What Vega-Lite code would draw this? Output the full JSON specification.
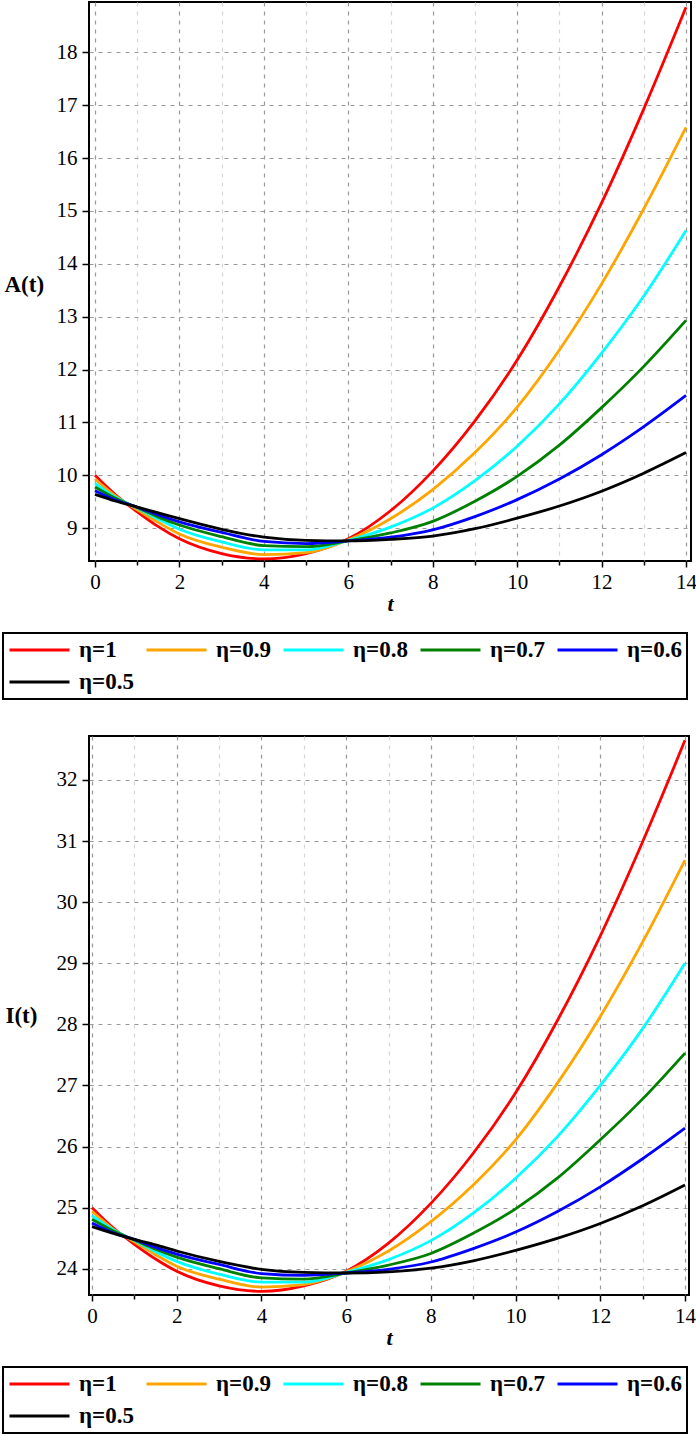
{
  "$schema": "https://vega.github.io/schema/vega-lite/v6.json",
  "background": "white",
  "padding": {"left": 1, "top": 1, "right": 2, "bottom": 0},
  "spacing": 34,
  "config": {
    "view": {"stroke": "black", "strokeWidth": 2},
    "font": "Liberation Serif",
    "axis": {
      "labelFont": "Liberation Serif",
      "labelFontSize": 21,
      "labelColor": "black",
      "titleFont": "Liberation Serif",
      "titleFontSize": 22,
      "titleFontWeight": "bold",
      "titleColor": "black",
      "domain": false,
      "tickColor": "black",
      "tickWidth": 1.5,
      "labelOverlap": false,
      "labelFlush": false,
      "labelPadding": 5,
      "grid": true,
      "gridWidth": 1.2
    },
    "legend": {
      "strokeColor": "black",
      "strokeWidth": 2,
      "fillColor": "white"
    }
  },
  "datasets": {
    "curves": [
      {"t":0,"eta":"η=1","A":10.00,"I":25.00},{"t":0.5,"eta":"η=1","A":9.62,"I":24.67},{"t":1,"eta":"η=1","A":9.31,"I":24.40},{"t":1.5,"eta":"η=1","A":9.03,"I":24.16},{"t":2,"eta":"η=1","A":8.80,"I":23.96},{"t":3,"eta":"η=1","A":8.52,"I":23.72},{"t":4,"eta":"η=1","A":8.42,"I":23.63},{"t":5,"eta":"η=1","A":8.52,"I":23.72},{"t":6,"eta":"η=1","A":8.80,"I":23.96},{"t":7,"eta":"η=1","A":9.33,"I":24.42},{"t":8,"eta":"η=1","A":10.08,"I":25.07},{"t":9,"eta":"η=1","A":11.03,"I":25.89},{"t":10,"eta":"η=1","A":12.18,"I":26.88},{"t":11,"eta":"η=1","A":13.57,"I":28.08},{"t":12,"eta":"η=1","A":15.15,"I":29.45},{"t":13,"eta":"η=1","A":16.93,"I":30.99},{"t":14,"eta":"η=1","A":18.85,"I":32.65},
      {"t":0,"eta":"η=0.9","A":9.93,"I":24.94},{"t":0.5,"eta":"η=0.9","A":9.60,"I":24.65},{"t":1,"eta":"η=0.9","A":9.35,"I":24.44},{"t":1.5,"eta":"η=0.9","A":9.11,"I":24.23},{"t":2,"eta":"η=0.9","A":8.89,"I":24.04},{"t":3,"eta":"η=0.9","A":8.64,"I":23.83},{"t":4,"eta":"η=0.9","A":8.50,"I":23.70},{"t":5,"eta":"η=0.9","A":8.54,"I":23.74},{"t":6,"eta":"η=0.9","A":8.78,"I":23.95},{"t":7,"eta":"η=0.9","A":9.18,"I":24.29},{"t":8,"eta":"η=0.9","A":9.73,"I":24.77},{"t":9,"eta":"η=0.9","A":10.43,"I":25.37},{"t":10,"eta":"η=0.9","A":11.29,"I":26.11},{"t":11,"eta":"η=0.9","A":12.37,"I":27.05},{"t":12,"eta":"η=0.9","A":13.62,"I":28.13},{"t":13,"eta":"η=0.9","A":15.04,"I":29.35},{"t":14,"eta":"η=0.9","A":16.58,"I":30.69},
      {"t":0,"eta":"η=0.8","A":9.85,"I":24.87},{"t":0.5,"eta":"η=0.8","A":9.58,"I":24.64},{"t":1,"eta":"η=0.8","A":9.38,"I":24.46},{"t":1.5,"eta":"η=0.8","A":9.17,"I":24.28},{"t":2,"eta":"η=0.8","A":8.98,"I":24.12},{"t":3,"eta":"η=0.8","A":8.74,"I":23.91},{"t":4,"eta":"η=0.8","A":8.59,"I":23.78},{"t":5,"eta":"η=0.8","A":8.59,"I":23.78},{"t":6,"eta":"η=0.8","A":8.77,"I":23.94},{"t":7,"eta":"η=0.8","A":9.02,"I":24.15},{"t":8,"eta":"η=0.8","A":9.38,"I":24.46},{"t":9,"eta":"η=0.8","A":9.90,"I":24.91},{"t":10,"eta":"η=0.8","A":10.55,"I":25.48},{"t":11,"eta":"η=0.8","A":11.35,"I":26.17},{"t":12,"eta":"η=0.8","A":12.31,"I":27.00},{"t":13,"eta":"η=0.8","A":13.39,"I":27.93},{"t":14,"eta":"η=0.8","A":14.63,"I":29.00},
      {"t":0,"eta":"η=0.7","A":9.78,"I":24.81},{"t":0.5,"eta":"η=0.7","A":9.56,"I":24.62},{"t":1,"eta":"η=0.7","A":9.39,"I":24.47},{"t":1.5,"eta":"η=0.7","A":9.21,"I":24.32},{"t":2,"eta":"η=0.7","A":9.06,"I":24.19},{"t":3,"eta":"η=0.7","A":8.84,"I":24.00},{"t":4,"eta":"η=0.7","A":8.67,"I":23.85},{"t":5,"eta":"η=0.7","A":8.65,"I":23.83},{"t":6,"eta":"η=0.7","A":8.76,"I":23.93},{"t":7,"eta":"η=0.7","A":8.91,"I":24.06},{"t":8,"eta":"η=0.7","A":9.13,"I":24.25},{"t":9,"eta":"η=0.7","A":9.51,"I":24.58},{"t":10,"eta":"η=0.7","A":9.98,"I":24.98},{"t":11,"eta":"η=0.7","A":10.57,"I":25.49},{"t":12,"eta":"η=0.7","A":11.28,"I":26.11},{"t":13,"eta":"η=0.7","A":12.06,"I":26.78},{"t":14,"eta":"η=0.7","A":12.93,"I":27.53},
      {"t":0,"eta":"η=0.6","A":9.71,"I":24.75},{"t":0.5,"eta":"η=0.6","A":9.53,"I":24.59},{"t":1,"eta":"η=0.6","A":9.40,"I":24.48},{"t":1.5,"eta":"η=0.6","A":9.25,"I":24.35},{"t":2,"eta":"η=0.6","A":9.12,"I":24.24},{"t":3,"eta":"η=0.6","A":8.92,"I":24.07},{"t":4,"eta":"η=0.6","A":8.75,"I":23.92},{"t":5,"eta":"η=0.6","A":8.71,"I":23.89},{"t":6,"eta":"η=0.6","A":8.76,"I":23.93},{"t":7,"eta":"η=0.6","A":8.83,"I":23.99},{"t":8,"eta":"η=0.6","A":8.97,"I":24.11},{"t":9,"eta":"η=0.6","A":9.22,"I":24.33},{"t":10,"eta":"η=0.6","A":9.54,"I":24.60},{"t":11,"eta":"η=0.6","A":9.93,"I":24.94},{"t":12,"eta":"η=0.6","A":10.39,"I":25.34},{"t":13,"eta":"η=0.6","A":10.92,"I":25.80},{"t":14,"eta":"η=0.6","A":11.51,"I":26.30},
      {"t":0,"eta":"η=0.5","A":9.64,"I":24.69},{"t":0.5,"eta":"η=0.5","A":9.51,"I":24.58},{"t":1,"eta":"η=0.5","A":9.40,"I":24.48},{"t":1.5,"eta":"η=0.5","A":9.29,"I":24.39},{"t":2,"eta":"η=0.5","A":9.18,"I":24.29},{"t":3,"eta":"η=0.5","A":8.98,"I":24.12},{"t":4,"eta":"η=0.5","A":8.83,"I":23.99},{"t":5,"eta":"η=0.5","A":8.77,"I":23.94},{"t":6,"eta":"η=0.5","A":8.76,"I":23.93},{"t":7,"eta":"η=0.5","A":8.79,"I":23.95},{"t":8,"eta":"η=0.5","A":8.85,"I":24.01},{"t":9,"eta":"η=0.5","A":8.99,"I":24.13},{"t":10,"eta":"η=0.5","A":9.19,"I":24.30},{"t":11,"eta":"η=0.5","A":9.42,"I":24.50},{"t":12,"eta":"η=0.5","A":9.70,"I":24.74},{"t":13,"eta":"η=0.5","A":10.04,"I":25.03},{"t":14,"eta":"η=0.5","A":10.43,"I":25.37}
    ]
  },
  "resolve": {
    "scale": {"x": "independent", "y": "independent", "color": "independent"},
    "axis": {"x": "independent", "y": "independent"},
    "legend": {"color": "independent"}
  },
  "vconcat": [
    {
      "width": 602,
      "height": 559,
      "data": {"name": "curves"},
      "mark": {"type": "line", "strokeWidth": 2.8, "interpolate": "monotone", "clip": true},
      "encoding": {
        "x": {
          "field": "t", "type": "quantitative",
          "scale": {"domain": [-0.142, 14.118], "nice": false, "zero": false},
          "axis": {
            "title": "t", "titleFont": "Liberation Serif", "titleFontSize": 22, "titleFontWeight": "bold", "titleFontStyle": "italic", "titleColor": "black", "titlePadding": 1,
            "labelFont": "Liberation Serif", "labelFontSize": 21, "labelColor": "black", "labelPadding": 4,
            "values": [0,1,2,3,4,5,6,7,8,9,10,11,12,13,14],
            "format": "d",
            "labelExpr": "datum.value % 2 === 0 ? datum.label : ''",
            "tickSize": {"condition": {"test": "datum.value % 2 === 0", "value": 6}, "value": 4},
            "gridColor": {"condition": {"test": "datum.value % 2 === 0", "value": "#9a9a9a"}, "value": "#d6d6d6"},
            "gridDash": [4, 5]
          }
        },
        "y": {
          "field": "A", "type": "quantitative",
          "scale": {"domain": [8.38, 18.95], "nice": false, "zero": false},
          "axis": {
            "title": "A(t)", "titleFont": "Liberation Serif", "titleFontSize": 23, "titleFontWeight": "bold", "titleColor": "black",
            "titleAngle": 0, "titleX": -85, "titleY": 282, "titleAlign": "left", "titleBaseline": "middle",
            "labelFont": "Liberation Serif", "labelFontSize": 21, "labelColor": "black", "labelPadding": 5,
            "values": [9,10,11,12,13,14,15,16,17,18],
            "format": "d",
            "tickSize": 7,
            "gridColor": "#9a9a9a",
            "gridDash": [4, 5]
          }
        },
        "color": {
          "field": "eta", "type": "nominal",
          "scale": {"domain": ["η=1","η=0.9","η=0.8","η=0.7","η=0.6","η=0.5"], "range": ["#ff0000","#ffa500","#00ffff","#008000","#0000ff","#000000"]},
          "legend": {
            "title": null, "orient": "none", "legendX": -86, "legendY": 631,
            "direction": "horizontal", "columns": 5,
            "symbolType": "stroke", "symbolSize": 3600, "symbolStrokeWidth": 3,
            "labelFont": "Liberation Serif", "labelFontSize": 23, "labelFontWeight": "bold", "labelColor": "black",
            "labelOffset": 8, "labelLimit": 300, "columnPadding": 11, "rowPadding": 8, "padding": 5, "clipHeight": 24,
            "strokeColor": "black", "fillColor": "white"
          }
        }
      }
    },
    {
      "width": 600,
      "height": 559,
      "data": {"name": "curves"},
      "mark": {"type": "line", "strokeWidth": 2.8, "interpolate": "monotone", "clip": true},
      "encoding": {
        "x": {
          "field": "t", "type": "quantitative",
          "scale": {"domain": [-0.071, 14.094], "nice": false, "zero": false},
          "axis": {
            "title": "t", "titleFont": "Liberation Serif", "titleFontSize": 22, "titleFontWeight": "bold", "titleFontStyle": "italic", "titleColor": "black", "titlePadding": 1,
            "labelFont": "Liberation Serif", "labelFontSize": 21, "labelColor": "black", "labelPadding": 4,
            "values": [0,1,2,3,4,5,6,7,8,9,10,11,12,13,14],
            "format": "d",
            "labelExpr": "datum.value % 2 === 0 ? datum.label : ''",
            "tickSize": {"condition": {"test": "datum.value % 2 === 0", "value": 6}, "value": 4},
            "gridColor": {"condition": {"test": "datum.value % 2 === 0", "value": "#9a9a9a"}, "value": "#d6d6d6"},
            "gridDash": [4, 5]
          }
        },
        "y": {
          "field": "I", "type": "quantitative",
          "scale": {"domain": [23.57, 32.72], "nice": false, "zero": false},
          "axis": {
            "title": "I(t)", "titleFont": "Liberation Serif", "titleFontSize": 23, "titleFontWeight": "bold", "titleColor": "black",
            "titleAngle": 0, "titleX": -84, "titleY": 279, "titleAlign": "left", "titleBaseline": "middle",
            "labelFont": "Liberation Serif", "labelFontSize": 21, "labelColor": "black", "labelPadding": 5,
            "values": [24,24.5,25,25.5,26,26.5,27,27.5,28,28.5,29,29.5,30,30.5,31,31.5,32,32.5],
            "format": "d",
            "labelExpr": "datum.value % 1 === 0 ? datum.label : ''",
            "tickSize": {"condition": {"test": "datum.value % 1 === 0", "value": 7}, "value": 4},
            "gridColor": {"condition": {"test": "datum.value % 1 === 0", "value": "#9a9a9a"}, "value": "#d6d6d6"},
            "gridDash": [4, 5]
          }
        },
        "color": {
          "field": "eta", "type": "nominal",
          "scale": {"domain": ["η=1","η=0.9","η=0.8","η=0.7","η=0.6","η=0.5"], "range": ["#ff0000","#ffa500","#00ffff","#008000","#0000ff","#000000"]},
          "legend": {
            "title": null, "orient": "none", "legendX": -86, "legendY": 631,
            "direction": "horizontal", "columns": 5,
            "symbolType": "stroke", "symbolSize": 3600, "symbolStrokeWidth": 3,
            "labelFont": "Liberation Serif", "labelFontSize": 23, "labelFontWeight": "bold", "labelColor": "black",
            "labelOffset": 8, "labelLimit": 300, "columnPadding": 11, "rowPadding": 8, "padding": 5, "clipHeight": 24,
            "strokeColor": "black", "fillColor": "white"
          }
        }
      }
    }
  ]
}
